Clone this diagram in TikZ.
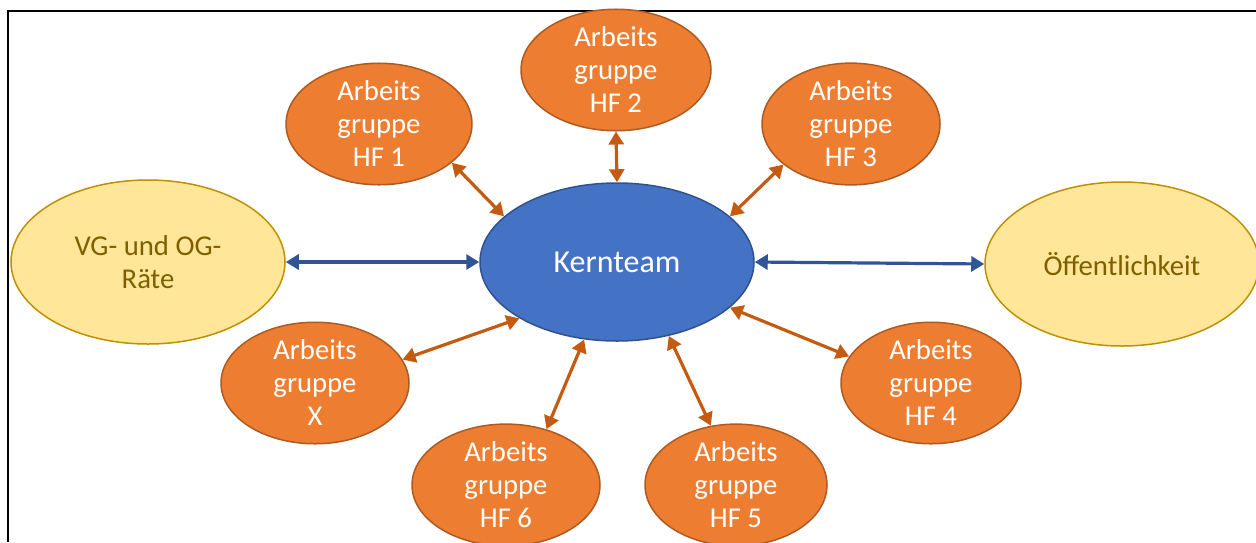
\documentclass[tikz,border=0pt]{standalone}
\usepackage{fontspec}
\setmainfont{Carlito}
\usetikzlibrary{shapes.geometric,arrows.meta}
\definecolor{orfill}{HTML}{ED7D31}
\definecolor{ordraw}{HTML}{AE5A21}
\definecolor{orarrow}{HTML}{C55A11}
\definecolor{blfill}{HTML}{4472C4}
\definecolor{bldraw}{HTML}{2F528F}
\definecolor{blarrow}{HTML}{2F5597}
\definecolor{yefill}{HTML}{FFE699}
\definecolor{yedraw}{HTML}{BF9000}
\definecolor{yetext}{HTML}{7F6000}
\tikzset{
  base/.style={ellipse, inner sep=0pt, align=center, line width=1.5pt, font=\fontsize{28.7}{33}\selectfont},
  ag/.style={base, fill=orfill, draw=ordraw, text=white, minimum width=#1pt, minimum height=106pt},
  yel/.style={base, fill=yefill, draw=yedraw, text=yetext, minimum width=274pt, minimum height=164pt},
  core/.style={base, fill=blfill, draw=bldraw, text=white, minimum width=274pt, minimum height=158pt, font=\fontsize{32}{38}\selectfont},
  oarr/.style={draw=orarrow, line width=3.2pt, {Triangle[length=13pt,width=15pt]}-{Triangle[length=13pt,width=15pt]}},
  barr/.style={draw=blarrow, line width=3.2pt, {Triangle[length=13pt,width=15pt]}-{Triangle[length=13pt,width=15pt]}},
  frame/.style={draw=black, line width=2pt}
}
\begin{document}
\begin{tikzpicture}[x=1pt,y=-1pt]
\useasboundingbox (0,0) rectangle (1256,542);
\coordinate (ftr) at (1256,11);
\coordinate (ftl) at (8,11);
\coordinate (fbl) at (8,542);
\draw[frame] (ftr) -- (ftl) -- (fbl);

\node[core] (kern) at (617,262) {Kernteam};
\node[yel] (vg) at (148,262) {VG- und OG-\\Räte};
\node[yel] (oeff) at (1122,264) {Öffentlichkeit};
\node[ag=186] (hf1) at (379,124) {Arbeits\\gruppe\\HF 1};
\node[ag=190] (hf2) at (616,70) {Arbeits\\gruppe\\HF 2};
\node[ag=178] (hf3) at (851,124) {Arbeits\\gruppe\\HF 3};
\node[ag=188] (agx) at (315,383) {Arbeits\\gruppe\\X};
\node[ag=188] (hf6) at (506,485) {Arbeits\\gruppe\\HF 6};
\node[ag=182] (hf5) at (736,485) {Arbeits\\gruppe\\HF 5};
\node[ag=180] (hf4) at (931,383) {Arbeits\\gruppe\\HF 4};

\draw[barr] (vg.east) -- (kern.west);
\draw[barr] (kern.east) -- (oeff.west);
\draw[oarr] (hf1.-28) -- (kern.158);
\draw[oarr] (hf2.south) -- (kern.north);
\draw[oarr] (hf3.-149) -- (kern.22);
\draw[oarr] (agx.15) -- (kern.-150);
\draw[oarr] (hf6.54) -- (kern.-113);
\draw[oarr] (hf5.113) -- (kern.-55);
\draw[oarr] (hf4.162) -- (kern.-22);
\end{tikzpicture}
\end{document}
